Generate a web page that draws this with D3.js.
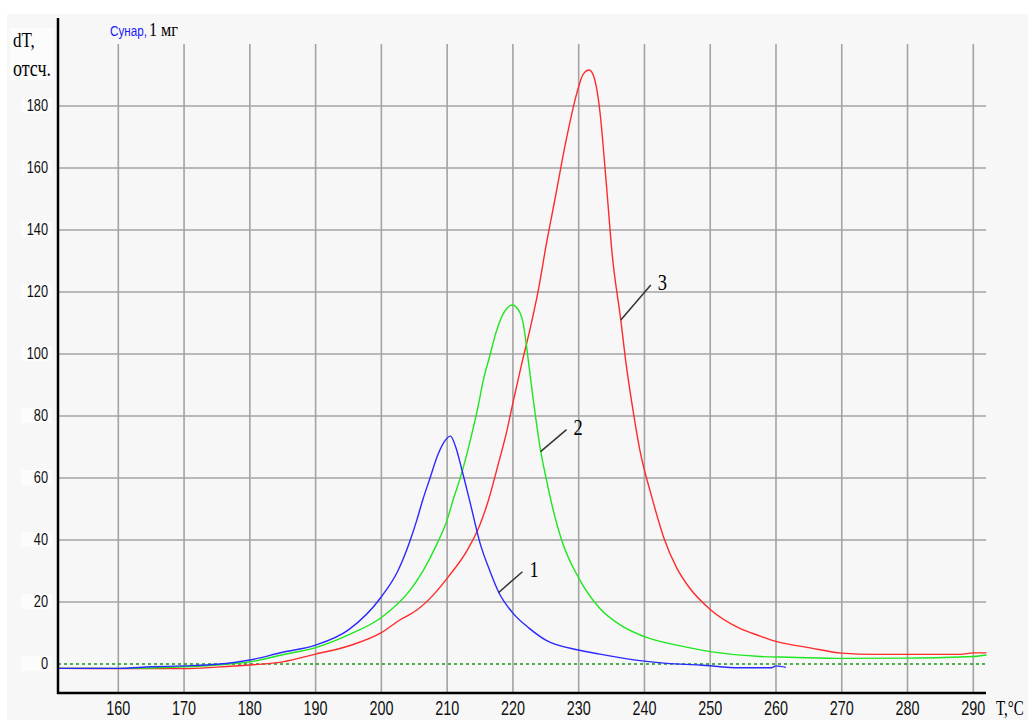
<!DOCTYPE html>
<html>
<head>
<meta charset="utf-8">
<script src="https://cdn.jsdelivr.net/npm/d3@7"></script>
<style>
  body { margin: 0; background: #fff; }
  svg { display: block; }
</style>
</head>
<body>
<div id="chart-container"></div>
<script>
// data
const xTicks = [160, 170, 180, 190, 200, 210, 220, 230, 240, 250, 260, 270, 280, 290];
const yTicks = [0, 20, 40, 60, 80, 100, 120, 140, 160, 180];

// curve 1 (blue)
const t1 = [151, 160, 165, 170, 175, 180, 185, 190, 195, 200, 202.5, 204.4, 205.4, 206.3, 207.4, 208.5, 209.5, 210.5, 211.3, 212.2, 213.5, 215, 216.5, 217.8, 220, 222.5, 225, 230, 233.2, 239.3, 243.4, 248.4, 254.5, 259.3, 260, 261.5];
const v1 = [-1.4, -1.4, -0.9, -0.6, -0.1, 1.3, 3.8, 6.1, 11, 21.7, 30, 40, 46.5, 53, 60, 67, 71.5, 73.5, 70, 63, 52, 39, 30, 23.3, 16.4, 11.5, 7.7, 4.5, 3.2, 1.1, 0.2, -0.3, -1.2, -1.2, -0.6, -1.1];

// curve 2 (green)
const t2 = [151, 160, 170, 175, 180, 185, 190, 195, 200, 204.4, 206.4, 208.4, 210, 210.9, 212.2, 213.5, 214.7, 215.5, 216.5, 217.3, 218, 219, 219.9, 220.9, 221.6, 222.1, 222.6, 223.1, 224.2, 225.1, 226.2, 227.4, 230.2, 233.2, 236.3, 240, 246, 250, 257.6, 262, 270, 280, 290, 292];
const v2 = [-1.4, -1.4, -0.9, -0.3, 0.7, 3.0, 5.3, 9.4, 15, 23.9, 30.3, 38.5, 46.5, 52.9, 61.5, 72, 83, 91.6, 99.5, 106, 110.5, 114.5, 115.8, 114, 109.5, 102, 93.5, 85.2, 69, 59.4, 49, 40, 27, 18, 12.6, 8.8, 5.6, 4, 2.4, 2.2, 1.8, 1.9, 2.4, 2.9];

// curve 3 (red)
const t3 = [151, 160, 170, 175, 180, 185, 190, 195, 200, 202.8, 205.4, 207.9, 210.2, 213, 215, 216.3, 217.8, 219, 220.1, 221.3, 222.6, 223.9, 225.1, 226.4, 228, 229.7, 230.7, 231.6, 232.3, 232.7, 233.2, 234.2, 235.1, 236.4, 237.2, 238.1, 239.3, 241.1, 242.9, 244.9, 246.7, 250, 254.5, 257.6, 259.3, 265.2, 270, 275, 280, 288, 290, 292];
const v3 = [-1.4, -1.5, -1.5, -1.0, -0.3, 0.7, 3.2, 5.8, 10.1, 14.2, 17.4, 22.3, 28.2, 36.5, 45, 53, 64.7, 74.5, 85.2, 96.5, 108, 121, 135.7, 150, 168, 184, 190.3, 191.6, 189.5, 186, 178.7, 155, 132, 111, 97, 84, 69, 54, 41, 31, 25, 17.6, 11.5, 9, 7.7, 5.2, 3.5, 3.1, 3.1, 3.1, 3.6, 3.6];

const width = 1028, height = 720;

const svg = d3.select("#chart-container")
  .append("svg")
  .attr("width", width)
  .attr("height", height);

// panel
svg.append("rect")
  .attr("x", 7).attr("y", 14)
  .attr("width", width - 7).attr("height", height - 14)
  .attr("fill", "#f7f7f7");

var x = d3.scaleLinear().domain([160, 290]).range([118.3, 973.3]);
var y = d3.scaleLinear().domain([0, 180]).range([664, 106]);

const left = 58, right = 986, bottom = 693;

// grid
svg.append("g").selectAll("line")
  .data(xTicks)
  .enter().append("line")
  .attr("x1", (d) => x(d)).attr("x2", (d) => x(d))
  .attr("y1", y(200)).attr("y2", bottom)
  .attr("stroke", "#a3a3a3")
  .attr("stroke-width", 1.6);

svg.append("g").selectAll("line")
  .data(yTicks.filter((d) => d > 0))
  .enter().append("line")
  .attr("x1", left).attr("x2", right)
  .attr("y1", (d) => y(d)).attr("y2", (d) => y(d))
  .attr("stroke", "#a3a3a3")
  .attr("stroke-width", 1.6);

// zero line
svg.append("line")
  .attr("x1", left).attr("x2", right)
  .attr("y1", y(0)).attr("y2", y(0))
  .attr("stroke", "#159a15")
  .attr("stroke-width", 1.6)
  .attr("stroke-dasharray", "3,3");

// curves
const line = d3.line()
  .x((d) => x(d[0]))
  .y((d) => y(d[1]))
  .curve(d3.curveMonotoneX);

const series = [
  { t: t3, v: v3, color: "#ff2a2a" },
  { t: t2, v: v2, color: "#1ee61e" },
  { t: t1, v: v1, color: "#2a2aff" }
];

series.forEach((s) => {
  svg.append("path")
    .datum(d3.zip(s.t, s.v))
    .attr("fill", "none")
    .attr("stroke", s.color)
    .attr("stroke-width", 1.4)
    .attr("d", line);
});

// axes lines
svg.append("line")
  .attr("x1", left).attr("x2", left)
  .attr("y1", 18).attr("y2", bottom + 1)
  .attr("stroke", "#000").attr("stroke-width", 2.5);
svg.append("line")
  .attr("x1", left - 1).attr("x2", right)
  .attr("y1", bottom).attr("y2", bottom)
  .attr("stroke", "#000").attr("stroke-width", 2.5);

// y tick labels
yTicks.forEach((d) => {
  svg.append("rect")
    .attr("x", 21).attr("y", y(d) - 8)
    .attr("width", 31).attr("height", 15)
    .attr("fill", "#fcfcfc");
  svg.append("text")
    .attr("transform", "translate(48," + (y(d) + 4.5) + ") scale(0.8,1)")
    .style("font-family", "'Liberation Sans', Arial, sans-serif")
    .style("font-size", "16px")
    .style("text-anchor", "end")
    .attr("fill", "#111")
    .text(d);
});

// x tick labels
xTicks.forEach((d) => {
  svg.append("text")
    .attr("transform", "translate(" + x(d) + ",715) scale(0.72,1)")
    .style("font-family", "'Liberation Sans', Arial, sans-serif")
    .style("font-size", "20px")
    .style("text-anchor", "middle")
    .attr("fill", "#111")
    .text(d);
});

// axis titles
svg.append("rect").attr("x", 10).attr("y", 28).attr("width", 44).attr("height", 52).attr("fill", "#fcfcfc");
svg.append("text")
  .attr("transform", "translate(13,47) scale(0.85,1)")
  .style("font-family", "'Liberation Serif', 'Times New Roman', serif")
  .style("font-size", "20px")
  .text("dT,");
svg.append("text")
  .attr("transform", "translate(13,76) scale(0.75,1)")
  .style("font-family", "'Liberation Serif', 'Times New Roman', serif")
  .style("font-size", "24px")
  .text("отсч.");

svg.append("text")
  .attr("transform", "translate(996,715) scale(0.68,1)")
  .style("font-family", "'Liberation Serif', 'Times New Roman', serif")
  .style("font-size", "22px")
  .text("T,°C");

// sample label
svg.append("text")
  .attr("transform", "translate(110,36) scale(0.78,1)")
  .style("font-family", "'Liberation Sans', Arial, sans-serif")
  .style("font-size", "15px")
  .attr("fill", "#1a1aff")
  .text("Сунар,");
svg.append("text")
  .attr("transform", "translate(149,36) scale(0.85,1)")
  .style("font-family", "'Liberation Serif', 'Times New Roman', serif")
  .style("font-size", "19px")
  .text("1 мг");

// curve numbers with leader lines
const notes = [
  { n: "1", t: 217.8, v: 23, dx: 24, dy: -21 },
  { n: "2", t: 224.2, v: 68.5, dx: 26, dy: -22 },
  { n: "3", t: 236.4, v: 111, dx: 30, dy: -35 }
];
notes.forEach((a) => {
  svg.append("line")
    .attr("x1", x(a.t)).attr("y1", y(a.v))
    .attr("x2", x(a.t) + a.dx).attr("y2", y(a.v) + a.dy)
    .attr("stroke", "#333").attr("stroke-width", 1.5);
  svg.append("text")
    .attr("transform", "translate(" + (x(a.t) + a.dx + 7) + "," + (y(a.v) + a.dy + 5) + ") scale(0.8,1)")
    .style("font-family", "'Liberation Serif', 'Times New Roman', serif")
    .style("font-size", "23px")
    .style("text-anchor", "start")
    .text(a.n);
});
</script>
</body>
</html>
